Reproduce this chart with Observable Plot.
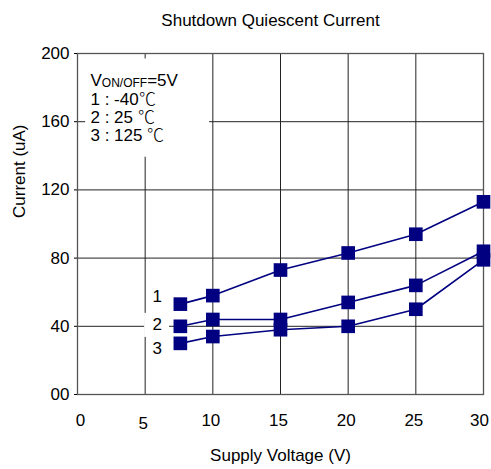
<!DOCTYPE html>
<html><head><meta charset="utf-8">
<script src="https://cdn.jsdelivr.net/npm/d3@7"></script>
<script src="https://cdn.jsdelivr.net/npm/@observablehq/plot@0.6"></script>
<style>
body{margin:0;background:#fff}
@font-face {
  font-family: "CelsiusCJK";
  src: local("Noto Sans CJK SC Light"), local("NotoSansCJKsc-Light"), local("Noto Sans CJK SC DemiLight"), local("NotoSansCJKsc-DemiLight"), local("Noto Sans CJK SC Regular"), local("NotoSansCJKsc-Regular"), local("Noto Sans CJK SC");
  unicode-range: U+2103;
}
</style>
</head><body><div id="chart"></div>
<script>
const title = "Shutdown Quiescent Current";
const xLabel = "Supply Voltage (V)";
const yLabel = "Current (uA)";
const voltage = [7.6, 10, 15, 20, 25, 30];
const series = ["1", "2", "3"];
const current1 = [53, 58, 73, 83, 94, 113];
const current2 = [40, 44, 44, 54, 64, 84];
const current3 = [30, 34, 38, 40, 50, 79];
const xTicks = [0, 5, 10, 15, 20, 25, 30];
const yTicks = [0, 40, 80, 120, 160, 200];
const yTickLabels = ["00", "40", "80", "120", "160", "200"];
const legendTitle = ["V", "ON/OFF", "=5V"];
const legendLines = ["1 : -40\u2103", "2 : 25 \u2103", "3 : 125 \u2103"];
const seriesLabelX = [5.9, 5.9, 5.9];
const seriesLabelY = [57.6, 41.3, 27.1];
const boxes = [
  {x1: 0.6, x2: 9.76, y1: 139.2, y2: 196.8},
  {x1: 4.96, x2: 6.8, y1: 33.5, y2: 47.6}
];

const currents = [current1, current2, current3];
const rows = series.flatMap((s, i) => voltage.map((v, j) => ({series: s, x: v, y: currents[i][j]})));
const navy = "#000080";
const font = "'Liberation Sans', Arial, sans-serif";
const legendFont = "CelsiusCJK, 'Liberation Sans', Arial, 'Noto Sans CJK SC', sans-serif";
const fs = 17;
const xAxisOpts = {tickSize: 0, tickPadding: 19, fontSize: fs, label: null};

const chart = Plot.plot({
  width: 491,
  height: 469,
  marginLeft: 77,
  marginRight: 8,
  marginTop: 53,
  marginBottom: 75,
  style: {fontFamily: font, fontSize: fs + "px", color: "#000", background: "#fff"},
  x: {domain: [0, 30]},
  y: {domain: [0, 200]},
  marks: [
    Plot.gridX(xTicks.slice(1), {stroke: "#222", strokeOpacity: 1}),
    Plot.gridY(yTicks.slice(1, -1), {stroke: "#222", strokeOpacity: 1}),
    Plot.rect(boxes, {x1: "x1", x2: "x2", y1: "y1", y2: "y2", fill: "white"}),
    Plot.frame({stroke: "#555", strokeWidth: 1.3}),
    Plot.axisX({...xAxisOpts, ticks: xTicks.slice(0, 1), dx: 3}),
    Plot.axisX({...xAxisOpts, ticks: xTicks.slice(1, 2), dx: -2, dy: 3}),
    Plot.axisX({...xAxisOpts, ticks: xTicks.slice(2, -1), dx: -2}),
    Plot.axisX({...xAxisOpts, ticks: xTicks.slice(-1), dx: -4}),
    Plot.axisY({ticks: yTicks, tickSize: 3, tickPadding: 5, fontSize: fs, label: null,
      tickFormat: d => yTickLabels[yTicks.indexOf(d)]}),
    Plot.line(rows, {x: "x", y: "y", z: "series", stroke: navy, strokeWidth: 1.6}),
    Plot.dot(rows, {x: "x", y: "y", symbol: "square", r: 7.7, fill: navy, stroke: null}),
    Plot.text(series, {x: (d, i) => seriesLabelX[i], y: (d, i) => seriesLabelY[i], text: d => d, fontSize: fs}),
    Plot.text([title], {frameAnchor: "top", dx: -10, dy: -28, lineAnchor: "bottom", fontSize: fs}),
    Plot.text([xLabel], {frameAnchor: "bottom", dy: 66, lineAnchor: "bottom", fontSize: fs}),
    Plot.text([yLabel], {frameAnchor: "left", dx: -53, dy: -6, rotate: -90, lineAnchor: "bottom", fontSize: fs}),
    Plot.text([legendTitle.join("")], {frameAnchor: "top-left", dx: 13, dy: 32, lineAnchor: "bottom", textAnchor: "start", fontSize: fs}),
    Plot.text([legendLines.join("\n")], {frameAnchor: "top-left", dx: 13, dy: 39, lineAnchor: "top", textAnchor: "start", lineHeight: 18 / fs, fontSize: fs, fontFamily: legendFont})
  ]
});

const svg = d3.select(chart);
svg.selectAll("text").filter(function() { return this.textContent === legendTitle.join(""); })
  .each(function() {
    const t = d3.select(this);
    t.text(null);
    t.append("tspan").text(legendTitle[0]);
    t.append("tspan").attr("font-size", 12).attr("dy", 1).text(legendTitle[1]);
    t.append("tspan").attr("dy", -1).text(legendTitle[2]);
  });

document.getElementById("chart").appendChild(chart);
</script>
</body></html>
